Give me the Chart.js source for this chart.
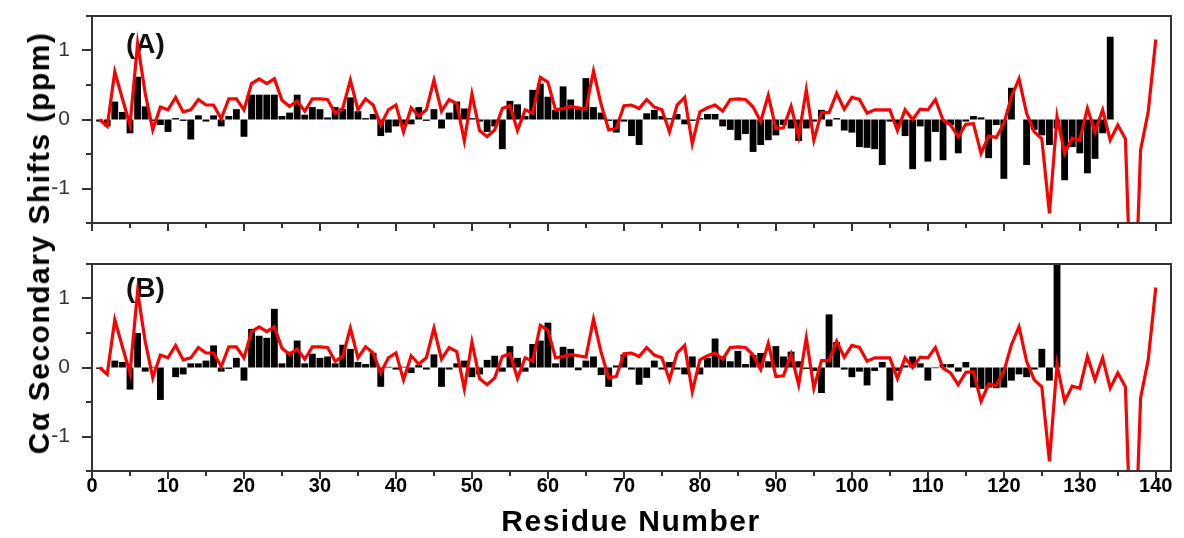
<!DOCTYPE html>
<html>
<head>
<meta charset="utf-8">
<script src="https://cdn.jsdelivr.net/npm/chart.js@4.4.0/dist/chart.umd.min.js"></script>
<style>
  body { margin: 0; background: #fff; }
  #wrap { position: relative; width: 1184px; height: 538px; overflow: hidden; font-family: "Liberation Sans", Arial, sans-serif; }
  #panelA { position: absolute; left: 0; top: 0; }
  #panelB { position: absolute; left: 0; top: 240px; }
  #ytitle { position: absolute; left: 39px; top: 243px; transform: translate(-50%, -50%) rotate(-90deg);
            white-space: nowrap; font-weight: bold; font-size: 30px; letter-spacing: 1.5px; color: #000; }
  #xtitle { position: absolute; left: 631px; top: 521px; transform: translate(-50%, -50%);
            white-space: nowrap; font-weight: bold; font-size: 30px; letter-spacing: 1.5px; color: #000; }
</style>
</head>
<body>
<div id="wrap">
  <canvas id="panelA" width="1184" height="240"></canvas>
  <canvas id="panelB" width="1184" height="298"></canvas>
  <div id="ytitle">Cα Secondary Shifts (ppm)</div>
  <div id="xtitle">Residue Number</div>
</div>
<script>
// residue numbering starts at 1 for every series
const firstResidue = 1;

// measured C-alpha secondary shifts, panel (A), residues 1..134
const shiftsA = [
  -0.03, -0.1, 0.26, 0.11, -0.2, 0.62, 0.19, -0.02, -0.08, -0.18,
  0.02, -0.02, -0.29, 0.06, -0.03, 0.06, -0.1, 0.05, 0.15, -0.25,
  0.36, 0.36, 0.36, 0.36, 0.05, 0.1, 0.36, 0.07, 0.18, 0.15,
  0.03, 0.18, 0.15, 0.32, 0.12, 0.02, 0.08, -0.24, -0.19, -0.1,
  -0.08, -0.07, 0.18, -0.02, 0.15, -0.13, 0.1, 0.26, 0.16, 0.02,
  -0.03, -0.18, -0.1, -0.43, 0.27, 0.22, 0.05, 0.43, 0.52, 0.33,
  0.14, 0.48, 0.29, 0.18, 0.6, 0.18, 0.1, -0.02, -0.19, -0.03,
  -0.24, -0.37, 0.09, 0.14, 0.05, 0.02, 0.08, -0.07, -0.02, 0.02,
  0.08, 0.08, -0.1, -0.15, -0.3, -0.21, -0.47, -0.37, -0.3, -0.23,
  -0.08, -0.13, -0.31, -0.13, -0.03, 0.14, -0.1, 0.02, -0.16, -0.19,
  -0.4, -0.41, -0.43, -0.66, -0.03, -0.1, -0.24, -0.72, -0.1, -0.61,
  -0.18, -0.59, -0.08, -0.49, -0.03, 0.05, 0.03, -0.56, -0.08, -0.86,
  0.46, 0.0, -0.66, -0.15, -0.23, -0.37, -0.13, -0.88, -0.4, -0.49,
  -0.78, -0.57, -0.2, 1.2
];

// measured C-alpha secondary shifts, panel (B), residues 1..127
const shiftsB = [
  -0.02, 0.0, 0.1, 0.08, -0.32, 0.5, -0.06, 0.01, -0.47, 0.0,
  -0.14, -0.1, 0.06, 0.06, 0.1, 0.32, -0.06, -0.02, 0.14, -0.19,
  0.56, 0.46, 0.43, 0.85, 0.06, 0.23, 0.39, 0.06, 0.2, 0.14,
  0.16, 0.06, 0.33, 0.27, 0.08, 0.05, 0.21, -0.28, 0.01, -0.03,
  0.01, -0.08, 0.04, -0.03, 0.19, -0.28, -0.03, 0.06, 0.1, -0.14,
  -0.1, 0.11, 0.17, -0.06, 0.31, 0.14, -0.06, 0.34, 0.39, 0.65,
  0.06, 0.3, 0.27, -0.04, 0.1, 0.16, -0.11, -0.28, 0.03, 0.19,
  -0.03, -0.25, -0.15, 0.1, -0.03, 0.08, -0.03, -0.1, 0.16, -0.1,
  0.14, 0.42, 0.16, 0.09, 0.24, 0.05, 0.18, 0.21, 0.09, 0.31,
  0.16, 0.23, 0.09, -0.02, -0.05, -0.37, 0.77, 0.37, -0.03, -0.14,
  -0.06, -0.26, -0.05, 0.08, -0.48, -0.05, 0.03, 0.16, 0.06, -0.19,
  -0.01, 0.05, 0.05, -0.06, 0.08, -0.29, -0.31, -0.29, -0.3, -0.29,
  -0.19, -0.1, -0.14, -0.03, 0.27, -0.19, 2.2
];

// red reference curve, same in both panels, residues 1..140
const curve = [
  0.0, -0.1, 0.69, 0.3, -0.08, 1.1, 0.38, -0.15, 0.18, 0.14,
  0.32, 0.11, 0.14, 0.29, 0.21, 0.21, 0.01, 0.3, 0.3, 0.14,
  0.52, 0.59, 0.52, 0.59, 0.28, 0.19, 0.27, 0.12, 0.3, 0.3,
  0.29, 0.09, 0.16, 0.57, 0.14, 0.3, 0.21, -0.08, 0.14, 0.21,
  -0.18, 0.17, 0.05, 0.14, 0.57, 0.12, 0.29, 0.23, -0.31, 0.37,
  -0.16, -0.25, -0.15, 0.16, 0.2, -0.16, 0.14, 0.09, 0.61, 0.54,
  0.14, 0.16, 0.19, 0.17, 0.15, 0.7, 0.22, -0.15, -0.13, 0.2,
  0.21, 0.16, 0.29, 0.18, 0.14, -0.18, 0.21, 0.32, -0.35, 0.11,
  0.17, 0.21, 0.12, 0.29, 0.3, 0.29, 0.18, -0.03, 0.35, -0.13,
  -0.12, 0.19, -0.25, 0.43, -0.3, 0.1, 0.1, 0.38, 0.15, 0.32,
  0.29, 0.09, 0.14, 0.14, 0.14, -0.16, 0.14, 0.0, 0.15, 0.14,
  0.29, -0.01, -0.08, -0.25, -0.07, -0.06, -0.49, -0.24, -0.26, -0.06,
  0.33, 0.59, 0.09, -0.18, -0.28, -1.36, 0.04, -0.49, -0.27, -0.3,
  0.16, -0.18, 0.14, -0.3, -0.08, -0.28, -3.5, -0.44, 0.11, 1.16
];

// axis ranges and tick steps
const xRange = [0, 142];
const yRange = [-1.5, 1.5];
const xMinorStep = 5, xMajorStep = 10;
const yMinorStep = 0.5;

const toPoints = arr => arr.map((v, i) => ({ x: i + firstResidue, y: v }));

const fontFamily = '"Liberation Sans", Arial, sans-serif';

// box round the plot, outward tick marks and the panel letter
const panelDecor = {
  id: 'panelDecor',
  beforeDatasetsDraw(chart, args, opts) {
    const { ctx, chartArea: a } = chart;
    ctx.save();
    ctx.fillStyle = '#111';
    ctx.font = 'bold 28px ' + fontFamily;
    ctx.textBaseline = 'middle';
    ctx.fillText(opts.label, a.left + 34, a.top + opts.dy);
    ctx.restore();
  },
  afterDatasetsDraw(chart) {
    const { ctx, chartArea: a, scales: { x, y } } = chart;
    ctx.save();
    ctx.strokeStyle = '#333';
    ctx.lineWidth = 2;
    ctx.strokeRect(a.left, a.top, a.right - a.left, a.bottom - a.top);
    ctx.beginPath();
    x.ticks.forEach(t => {
      if (t.value % xMinorStep) return;
      const px = Math.round(x.getPixelForValue(t.value));
      const len = t.value % xMajorStep === 0 ? 8 : 5;
      ctx.moveTo(px, a.bottom);
      ctx.lineTo(px, a.bottom + len);
    });
    y.ticks.forEach(t => {
      const py = Math.round(y.getPixelForValue(t.value));
      const len = Number.isInteger(t.value) ? 10 : 6;
      ctx.moveTo(a.left, py);
      ctx.lineTo(a.left - len, py);
    });
    ctx.stroke();
    ctx.restore();
  }
};

function makePanel(id, shifts, label, dy, showLabels, padTop, xHeight) {
  const ctx = document.getElementById(id).getContext('2d');
  return new Chart(ctx, {
    type: 'bar',
    data: {
      datasets: [{
        type: 'line',
        data: toPoints(curve),
        borderColor: '#ff0000',
        borderWidth: 3.2,
        pointRadius: 0,
        tension: 0,
        order: 1
      }, {
        type: 'bar',
        data: toPoints(shifts),
        backgroundColor: '#000',
        borderWidth: 0,
        barPercentage: 0.9,
        categoryPercentage: 1,
        order: 2
      }]
    },
    options: {
      responsive: false,
      animation: false,
      layout: { padding: { top: padTop, right: 13, left: 0, bottom: 0 } },
      plugins: {
        legend: { display: false },
        tooltip: { enabled: false },
        panelDecor: { label: label, dy: dy }
      },
      scales: {
        x: {
          type: 'linear',
          min: xRange[0],
          max: xRange[1],
          offset: false,
          grid: { display: false, drawTicks: false },
          border: { display: false },
          afterFit: s => { s.height = xHeight; },
          ticks: {
            display: showLabels,
            stepSize: xMinorStep,
            includeBounds: false,
            autoSkip: false,
            maxRotation: 0,
            padding: 3,
            color: '#000',
            font: { family: fontFamily, size: 20, weight: 'bold' },
            callback: v => (v % xMajorStep === 0 ? String(v) : '')
          }
        },
        y: {
          min: yRange[0],
          max: yRange[1],
          // tick length only pushes the labels left; the marks come from panelDecor
          grid: { display: false, drawTicks: true, tickLength: 22 },
          border: { display: false },
          afterFit: s => { s.width = 92; },
          ticks: {
            stepSize: yMinorStep,
            autoSkip: false,
            padding: 0,
            color: '#333',
            font: { family: fontFamily, size: 21 },
            callback: v => (Number.isInteger(v) ? String(v) : '')
          }
        }
      }
    },
    plugins: [panelDecor]
  });
}

makePanel('panelA', shiftsA, '(A)', 29, false, 16, 17);
makePanel('panelB', shiftsB, '(B)', 25, true, 24, 67);
</script>
</body>
</html>
